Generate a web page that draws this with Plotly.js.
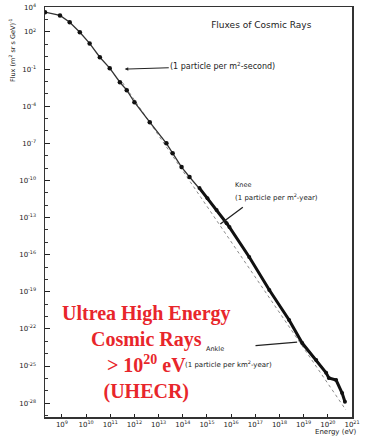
<!DOCTYPE html>
<html>
<head>
<meta charset="utf-8">
<script src="https://cdn.plot.ly/plotly-3.0.1.min.js"></script>
<style>html,body{margin:0;padding:0;background:#fff;}#chart{width:367px;height:443px;}</style>
</head>
<body>
<div id="chart"></div>
<script>
// Direct measurements (low energy), energy in eV, flux in (m^2 sr s GeV)^-1
const directEnergy = [2.0e8, 8.3e8, 2.1e9, 5.5e9, 1.4e10, 3.7e10, 9.5e10, 2.5e11, 4.8e11, 1.0e12, 4.3e12, 2.1e13, 3.8e13, 8.9e13, 1.9e14];
const directFlux   = [4.0e3, 2.2e3, 6.2e2, 95, 12, 0.91, 0.12, 8.7e-3, 2.0e-3, 2.1e-4, 5.1e-6, 1.0e-7, 1.6e-8, 1.2e-9, 1.9e-10];
// Air shower measurements (high energy)
const showerEnergy = [4.9e14, 1.05e15, 2.5e15, 6.5e15, 8.5e15, 5.6e16, 3.8e17, 2.5e18, 8.7e18, 3.3e19, 8.5e19, 1.1e20, 2.2e20, 3.9e20, 5.1e20];
const showerFlux   = [2.4e-11, 3.7e-12, 4.0e-13, 3.5e-14, 1.7e-14, 6.5e-17, 1.4e-19, 5.2e-22, 7.2e-24, 3.1e-25, 2.8e-26, 1.1e-26, 7.4e-27, 6.6e-28, 1.3e-28];
// Reference power law (dashed)
const refEnergy = [3.2e11, 5.6e20];
const refFlux   = [8.3e-3, 2.8e-29];

// Tick labels
const xTickExp = [9, 10, 11, 12, 13, 14, 15, 16, 17, 18, 19, 20, 21];
const yLabelledExp = [4, 2, -1, -4, -7, -10, -13, -16, -19, -22, -25, -28];
const yMinorExp = [];
for (let e = 4; e >= -29; e--) yMinorExp.push(e);

const xTickVals = xTickExp.map(e => Math.pow(10, e));
const xTickText = xTickExp.map(e => '10<sup>' + e + '</sup>');
const yTickVals = yLabelledExp.map(e => Math.pow(10, e));
const yTickText = yLabelledExp.map(e => '10<sup>' + e + '</sup>');
const yMinorVals = yMinorExp.map(e => Math.pow(10, e));

const smallFont = {family: 'DejaVu Sans', size: 7, color: '#222'};
const allEnergy = directEnergy.concat(showerEnergy);
const allFlux = directFlux.concat(showerFlux);

const traces = [
  {x: refEnergy, y: refFlux, mode: 'lines', line: {color: '#8a8a8a', width: 1, dash: 'dot'}, hoverinfo: 'skip', showlegend: false},
  {x: allEnergy, y: allFlux, mode: 'lines', line: {color: '#333', width: 1.3}, hoverinfo: 'skip', showlegend: false},
  {x: directEnergy, y: directFlux, mode: 'markers', marker: {color: '#111', size: 4.5}, showlegend: false},
  {x: showerEnergy, y: showerFlux, mode: 'lines+markers', line: {color: '#111', width: 3}, marker: {color: '#111', size: 4}, showlegend: false}
];

const layout = {
  width: 367, height: 443,
  margin: {l: 45, r: 15, t: 7, b: 26},
  paper_bgcolor: '#fff', plot_bgcolor: '#fff',
  showlegend: false,
  title: {text: 'Fluxes of Cosmic Rays', x: 0.712, y: 0.9436, xanchor: 'center', yanchor: 'middle', xref: 'container', yref: 'container', font: {family: 'DejaVu Sans', size: 9, color: '#222'}},
  xaxis: {
    type: 'log', range: [8.3, 21.0],
    tickmode: 'array', tickvals: xTickVals, ticktext: xTickText,
    ticks: 'inside', ticklen: 3, tickcolor: '#222', tickwidth: 1,
    showline: true, linecolor: '#333', linewidth: 1.5, mirror: true,
    showgrid: false, zeroline: false,
    tickfont: smallFont,
    minor: {ticks: 'inside', ticklen: 2, tickcolor: '#444', showgrid: false}
  },
  yaxis: {
    type: 'log', range: [-29.12, 4.02],
    tickmode: 'array', tickvals: yTickVals, ticktext: yTickText,
    ticks: 'inside', ticklen: 5, tickcolor: '#222', tickwidth: 1,
    showline: true, linecolor: '#333', linewidth: 1.5, mirror: true,
    showgrid: false, zeroline: false,
    tickfont: smallFont, ticklabelstandoff: 6,
    minor: {tickmode: 'array', tickvals: yMinorVals, ticks: 'inside', ticklen: 3, tickcolor: '#333', showgrid: false}
  },
  annotations: [
    {xref: 'paper', yref: 'paper', x: -0.1075, y: 0.895, text: 'Flux (m<sup>2</sup> sr s GeV)<sup>-1</sup>', textangle: -90, showarrow: false, xanchor: 'center', yanchor: 'middle', font: {family: 'DejaVu Sans', size: 6.5, color: '#222'}},
    {xref: 'paper', yref: 'paper', x: 0.948, y: -0.0366, text: 'Energy (eV)', showarrow: false, xanchor: 'center', yanchor: 'middle', font: smallFont},
    {x: 11.6, y: -1.0, xref: 'x', yref: 'y', text: '(1 particle per m<sup>2</sup>-second)', showarrow: true, ax: 98, ay: -3, arrowhead: 2, arrowsize: 0.7, arrowwidth: 1, arrowcolor: '#222', font: {family: 'DejaVu Sans', size: 8, color: '#222'}},
    {xref: 'paper', yref: 'paper', x: 0.612, y: 0.566, text: 'Knee', showarrow: false, xanchor: 'left', yanchor: 'middle', font: {family: 'DejaVu Sans', size: 6.5, color: '#222'}},
    {xref: 'paper', yref: 'paper', x: 0.612, y: 0.537, text: '(1 particle per m<sup>2</sup>-year)', showarrow: false, xanchor: 'left', yanchor: 'middle', font: smallFont},
    {x: 16.05, y: -12.8, xref: 'x', yref: 'y', text: '', showarrow: true, ax: 24, ay: -18, xshift: -12, yshift: -9, arrowhead: 0, arrowwidth: 1.3, arrowcolor: '#222', font: {size: 1}},
    {x: 18.73, y: -23.06, xref: 'x', yref: 'y', text: 'Ankle', showarrow: true, ax: -82, ay: 7, startstandoff: 30, arrowhead: 0, arrowwidth: 1.2, arrowcolor: '#222', font: {family: 'DejaVu Sans', size: 6.5, color: '#222'}},
    {xref: 'paper', yref: 'paper', x: 0.4495, y: 0.129, text: '(1 particle per km<sup>2</sup>-year)', showarrow: false, xanchor: 'left', yanchor: 'middle', font: smallFont},
    {xref: 'paper', yref: 'paper', x: 0.329, y: 0.1585, text: 'Ultrea High Energy<br>Cosmic Rays<br>&gt; 10<sup>20</sup> eV<br>(UHECR)', showarrow: false, xanchor: 'center', yanchor: 'middle', align: 'center', font: {family: 'Liberation Serif', size: 20, color: '#e8262b', weight: 'bold'}}
  ]
};

Plotly.newPlot('chart', traces, layout, {staticPlot: true, displayModeBar: false});
</script>
</body>
</html>
